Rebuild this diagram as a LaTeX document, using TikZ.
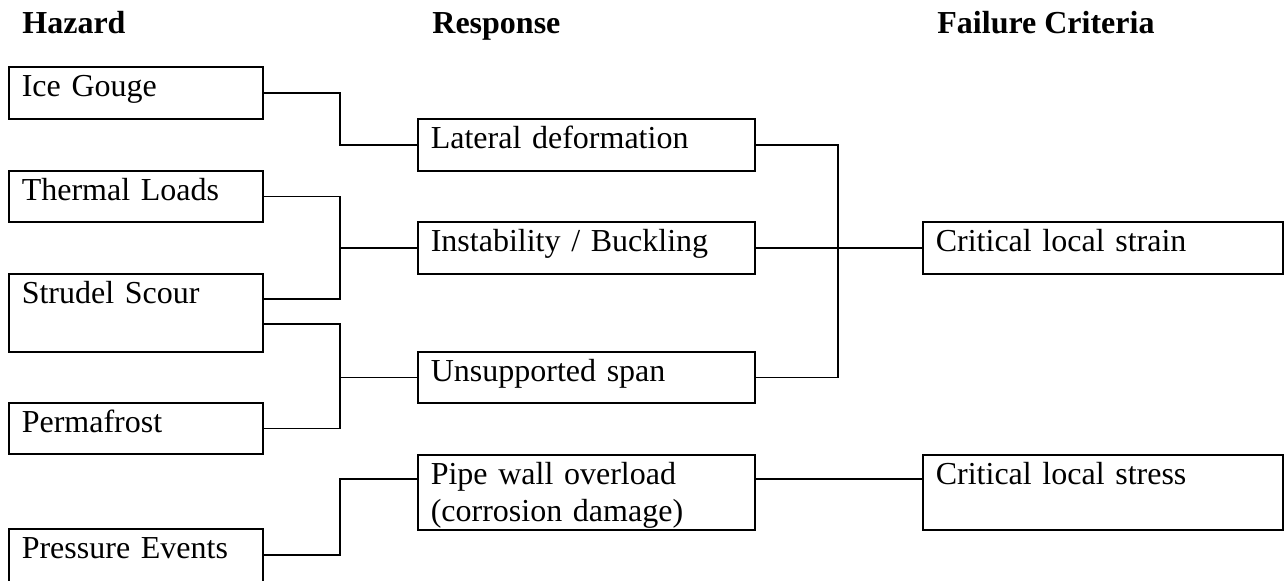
\documentclass[tikz,border=0pt]{standalone}
\usepackage{fontspec}
\setmainfont{Liberation Serif}
\begin{document}
\begin{tikzpicture}[x=0.5pt,y=-0.5pt,
  txt/.style={font=\fontsize{16pt}{18.4pt}\selectfont},
  head/.style={font=\fontsize{16pt}{18.4pt}\selectfont\bfseries, anchor=base west, inner sep=0pt},
  box/.style={draw, line width=0.8pt, anchor=north west, txt, align=left,
    inner xsep=6.5pt, inner ysep=0pt, text height=15pt},
  hz/.style={box, text width=114pt},
  rs/.style={box, text width=155.5pt},
  fc/.style={box, text width=167pt},
  conn/.style={line width=0.8pt}]
\useasboundingbox (0,0) rectangle (1284,580);
\clip (0,0) rectangle (1284,580);

% headers
\node[head] (h1) at (22,33) {Hazard};
\node[head] (h2) at (432,33) {Response};
\node[head] (h3) at (937,33) {Failure Criteria};

% hazards
\node[hz, text depth=11pt]   (ice)   at (8,66)  {Ice Gouge};
\node[hz, text depth=10.5pt] (therm) at (8,170) {Thermal Loads};
\node[hz, text depth=24pt]   (strud) at (8,273) {Strudel Scour};
\node[hz, text depth=10.5pt] (perm)  at (8,402) {Permafrost};
\node[hz, text depth=16pt]   (press) at (8,528) {Pressure Events};

% responses
\node[rs, text depth=11pt]   (lat)  at (417,118) {Lateral deformation};
\node[rs, text depth=11pt]   (inst) at (417,221) {Instability / Buckling};
\node[rs, text depth=10.5pt] (uns)  at (417,351) {Unsupported span};
\node[rs, text depth=22.5pt] (pipe) at (417,454) {Pipe wall overload\\(corrosion damage)};

% failure criteria
\node[fc, text depth=11pt]   (crit1) at (922,221) {Critical local strain};
\node[fc, text depth=22.5pt] (crit2) at (922,454) {Critical local stress};

% buses and port points
\coordinate (busL) at (340,0);
\coordinate (busR) at (838,0);
\coordinate (strudA) at ([yshift=-13pt]strud.north east);
\coordinate (strudB) at ([yshift=-25.5pt]strud.north east);
\coordinate (pressA) at ([yshift=-13.5pt]press.north east);
\coordinate (pipeW) at ([yshift=-12.5pt]pipe.north west);
\coordinate (pipeE) at ([yshift=-12.5pt]pipe.north east);
\coordinate (crit2W) at ([yshift=-12.5pt]crit2.north west);

% left connectors
\draw[conn] (ice.east) -| (busL |- lat.west) -- (lat.west);
\draw[conn] (therm.east) -| (busL |- inst.west) -- (inst.west);
\draw[conn] (strudA) -| (busL |- inst.west);
\draw[conn] (strudB) -| (busL |- uns.west) -- (uns.west);
\draw[conn] (perm.east) -| (busL |- uns.west);
\draw[conn] (pressA) -| (busL |- pipeW) -- (pipeW);

% right connectors
\draw[conn] (lat.east) -| (busR |- crit1.west) -- (crit1.west);
\draw[conn] (inst.east) -- (crit1.west);
\draw[conn] (uns.east) -| (busR |- crit1.west);
\draw[conn] (pipeE) -- (crit2W);
\end{tikzpicture}
\end{document}
